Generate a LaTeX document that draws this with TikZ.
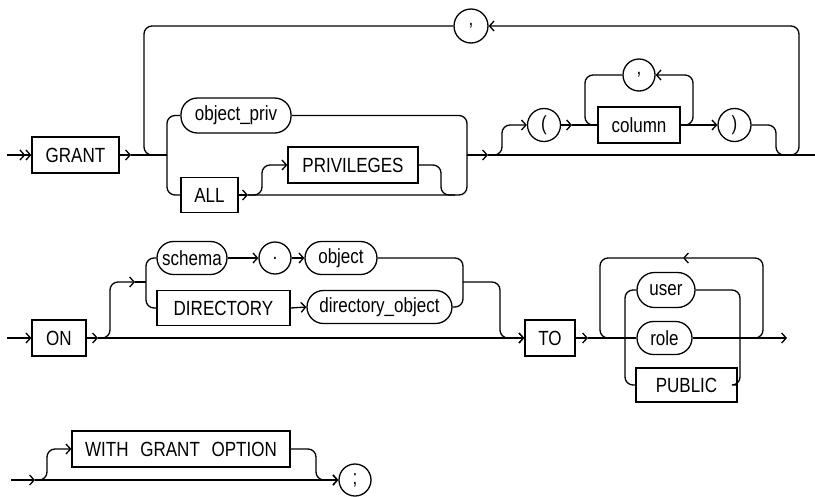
\documentclass[tikz,border=0pt]{standalone}
\usepackage{fontspec}
\setmainfont{Liberation Sans}[FakeStretch=0.83]
\usetikzlibrary{arrows.meta}

\begin{document}
\begin{tikzpicture}[x=1pt,y=-1pt,line width=1.3pt,
  >={Straight Barb[length=4.5pt,width=10pt]},
  font=\fontsize{20.5}{23}\selectfont,
  keyword/.style={rectangle,draw,inner sep=0pt,minimum height=36pt},
  param/.style={rectangle,draw,rounded corners=16.5pt,inner sep=0pt,minimum height=33pt},
  symbol/.style={circle,draw,inner sep=0pt,minimum size=33pt},
  rail/.style={draw,rounded corners=8pt}]
\useasboundingbox (0,0) rectangle (815,496);
% GRANT line
\node[keyword,minimum width=87pt] (grant) at (75.5,155) {GRANT};
\node[param,minimum width=110pt,minimum height=35pt] (objpriv) at (236,115.5) {object\_priv};
\node[keyword,minimum width=57pt,minimum height=35pt] (all) at (209.5,195) {ALL};
\node[keyword,minimum width=130pt] (privileges) at (353,165) {PRIVILEGES};
\node[symbol,minimum size=34pt] (comma) at (471,26) {,};
\node[symbol] (lparen) at (544,125) {(};
\node[keyword,minimum width=82pt] (column) at (639,125) {column};
\node[symbol,minimum size=32pt] (colcomma) at (639,75) {,};
\node[symbol] (rparen) at (734.5,125) {)};
\coordinate (start1) at (7,155);
\coordinate (grantout) at (131,155);
\coordinate (privsplit) at (167,155);
\coordinate (allout) at (248,195);
\coordinate (privjoin) at (467,155);
\coordinate (colsplit) at (488,155);
\coordinate (lparenout) at (572,125);
\coordinate (end1) at (815,155);
\draw[->>] (start1) -- (grant.west);
\draw[->] (grant.east) -- (grantout);
\draw (grantout) -- (privsplit);
\draw[rail] (privsplit) |- (objpriv.west);
\draw[rail] (privsplit) |- (all.west);
\draw[->] (all.east) -- (allout);
\draw[rail,->] (allout) -| (262,165) -- (privileges.west);
\draw[rail] (allout) -| (privjoin);
\draw[rail] (objpriv.east) -| (privjoin);
\draw[rail] (privileges.east) -| (441,195) -- (455,195);
\draw[->] (privjoin) -- (colsplit);
\draw (colsplit) -- (end1);
\draw[rail,->] (colsplit) -| (502,125) -- (lparen.west);
\draw[->] (lparen.east) -- (lparenout);
\draw (lparenout) -- (column.west);
\draw[->] (column.east) -- (rparen.west);
\draw[rail,->] (column.east) -| (693,75) -- (colcomma.east);
\draw[rail] (colcomma.west) -| (585,125) -- (column.west);
\draw[rail] (rparen.east) -| (776,155) -- (790,155);
\draw[rail,->] (787,155) -| (799,26) -- (comma.east);
\draw[rail] (comma.west) -| (144,155) -- (158,155);
% ON ... TO line
\node[keyword,minimum width=54pt] (on) at (59,338) {ON};
\node[param,minimum width=70pt] (schema) at (192,258) {schema};
\node[symbol,minimum size=32pt] (dot) at (275,258) {.};
\node[param,minimum width=72pt] (object) at (341,258) {object};
\node[keyword,minimum width=133pt,minimum height=35pt] (directory) at (223.5,308) {DIRECTORY};
\node[param,minimum width=145pt] (dirobject) at (379.5,307) {directory\_object};
\node[keyword,minimum width=50pt] (to) at (550,338) {TO};
\node[param,minimum width=58pt,minimum height=35pt,rounded corners=17.5pt] (user) at (666,290) {user};
\node[param,minimum width=55pt] (role) at (664.5,338) {role};
\node[keyword,minimum width=101pt,minimum height=34pt] (public) at (686.5,385) {PUBLIC};
\coordinate (start2) at (7,338);
\coordinate (onout) at (98,338);
\coordinate (objin) at (135,282);
\coordinate (objsplit) at (146,282);
\coordinate (objjoin) at (463,282);
\coordinate (toout) at (588,338);
\coordinate (granteesplit) at (625,338);
\coordinate (granteejoin) at (740,338);
\coordinate (granteeloop) at (683,258);
\coordinate (end2) at (787,338);
\draw[->] (start2) -- (on.west);
\draw[->] (on.east) -- (onout);
\draw[->] (onout) -- (to.west);
\draw[rail,->] (onout) -| (110,282) -- (objin);
\draw (objin) -- (objsplit);
\draw[rail] (objsplit) |- (schema.west);
\draw[rail] (objsplit) |- (directory.west);
\draw[->] (schema.east) -- (dot.west);
\draw[->] (dot.east) -- (object.west);
\draw[->] (directory.east) -- (dirobject.west);
\draw[rail] (object.east) -| (objjoin);
\draw[rail] (dirobject.east) -| (objjoin);
\draw[rail,->] (objjoin) -| (500,338) -- (to.west);
\draw[->] (to.east) -- (toout);
\draw (toout) -- (role.west);
\draw[->] (role.east) -- (end2);
\draw[rail] (granteesplit) |- (user.west);
\draw[rail] (granteesplit) |- (public.west);
\draw[rail] (user.east) -| (granteejoin);
\draw[rail] (public.east) -| (granteejoin);
\draw[rail,->] (753,338) -| (763,258) -- (granteeloop);
\draw[rail] (granteeloop) -| (600,338) -- (612,338);
% WITH GRANT OPTION line
\node[keyword,minimum width=218pt] (withgrant) at (181,449) {WITH\hspace{7pt} GRANT\hspace{7pt} OPTION};
\node[symbol,minimum size=32pt] (semi) at (355,480) {;};
\coordinate (start3) at (11,480);
\coordinate (withsplit) at (35,480);
\draw[->] (start3) -- (withsplit);
\draw[->] (withsplit) -- (semi.west);
\draw[rail,->] (withsplit) -| (47,449) -- (withgrant.west);
\draw[rail,->] (withgrant.east) -| (316,480) -- (semi.west);
\end{tikzpicture}
\end{document}
